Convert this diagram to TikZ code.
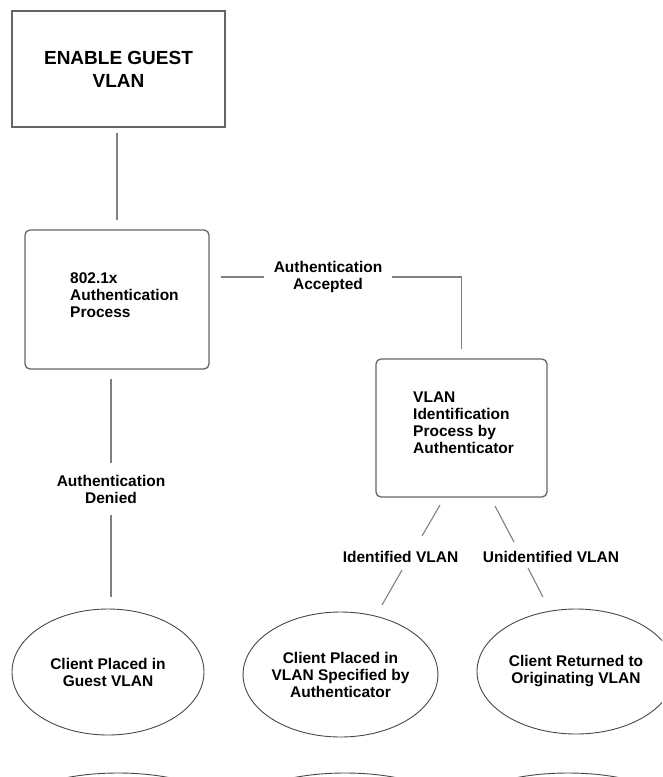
\documentclass[tikz,border=0pt]{standalone}
\usepackage{fontspec}
\setmainfont{Liberation Sans}
\usetikzlibrary{positioning,shapes.geometric,calc}

\begin{document}
\begin{tikzpicture}[x=1pt, y=-1pt,
    every node/.style={font=\bfseries\fontsize{15.5}{17}\selectfont, inner sep=0pt},
    box/.style={draw=black!60, line width=1.3pt},
    rbox/.style={box, rounded corners=5pt},
    oval/.style={ellipse, draw=black!72, line width=0.9pt},
    ovalline/.style={draw=black!72, line width=0.9pt},
    conn/.style={draw=black!50, line width=1.1pt}]
    \useasboundingbox (0,0) rectangle (662,777);
    \clip (0,0) rectangle (662,777);
    % boxes
    \node[box, minimum width=213pt, minimum height=116pt, align=center, font=\bfseries\fontsize{19}{23}\selectfont] (guest) at (118.5,69) {ENABLE GUEST\\VLAN};
    \node[rbox, minimum width=184pt, minimum height=139pt] (auth) at (117,299.5) {};
    \node[anchor=west, align=left] (authtxt) at (70,295) {802.1x\\Authentication\\Process};
    \node[rbox, minimum width=171pt, minimum height=138pt] (vlan) at (461.5,428) {};
    \node[anchor=west, align=left] (vlantxt) at (413,422.5) {VLAN\\Identification\\Process by\\Authenticator};
    % outcomes
    \node[oval, minimum width=192pt, minimum height=126pt, align=center] (guestvlan) at (108,672) {Client Placed in\\Guest VLAN};
    \node[oval, minimum width=193pt, minimum height=125pt, align=center] (specvlan) at (340.5,674.5) {Client Placed in\\VLAN Specified by\\Authenticator};
    \node[oval, minimum width=198pt, minimum height=125pt, align=center] (origvlan) at (576,671.5) {Client Returned to\\Originating VLAN};
    % labels
    \node[inner xsep=10pt, align=center] (accepted) at (328,277) {Authentication\\Accepted};
    \node[inner ysep=12pt, align=center] (denied) at (111,489) {Authentication\\Denied};
    \node (ident) at (400.5,557) {Identified VLAN};
    \node (unident) at (551,557) {Unidentified VLAN};
    % connectors
    \draw[conn, shorten <=5pt, shorten >=9pt] (auth.north |- guest.south) -- (auth.north);
    \draw[conn, shorten <=11pt] (auth.east |- accepted.west) -- (accepted.west);
    \draw[conn, shorten >=9pt] (accepted.east) -- (accepted.east -| vlan.north) -- (vlan.north);
    \draw[conn, shorten <=9pt] (auth.south -| denied.north) -- (denied.north);
    \draw[conn, shorten >=12pt] (denied.south) -- (denied.south |- guestvlan.north);
    \coordinate (id1) at (440,505);
    \coordinate (id2) at (422,536);
    \coordinate (id3) at (402,570);
    \coordinate (id4) at (382,605);
    \coordinate (un1) at (495,506);
    \coordinate (un2) at (514,542);
    \coordinate (un3) at (528,568);
    \coordinate (un4) at (543,597);
    \draw[conn] (id1) -- (id2) (id3) -- (id4);
    \draw[conn] (un1) -- (un2) (un3) -- (un4);
    % cut-off shapes at the bottom edge
    \foreach \cx in {118,345,568}
        \draw[ovalline] (\cx,813) ellipse [x radius=110, y radius=40];
\end{tikzpicture}
\end{document}
